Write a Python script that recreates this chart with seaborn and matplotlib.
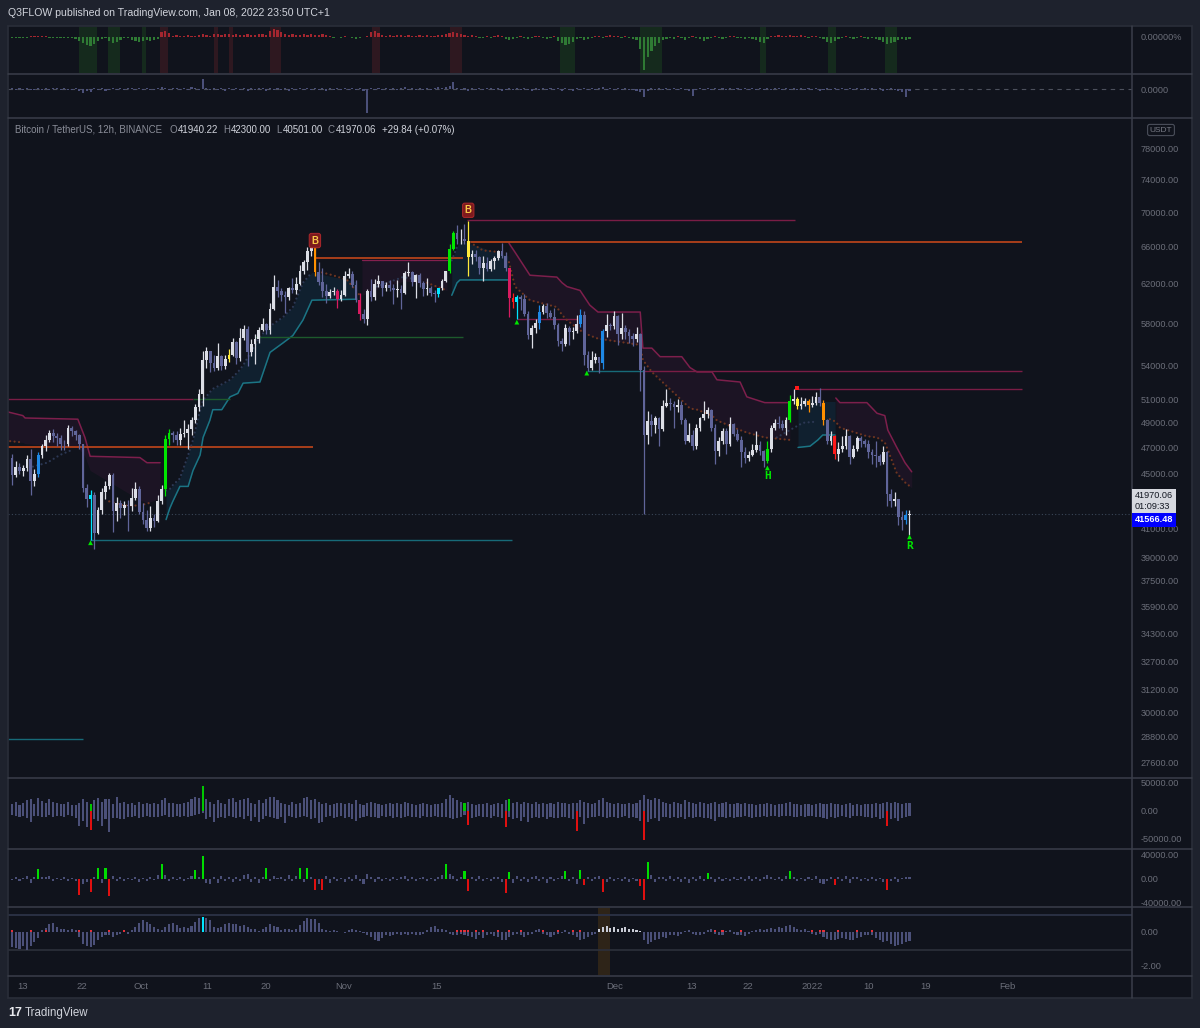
import numpy as np
import matplotlib
matplotlib.use("Agg")
import matplotlib.pyplot as plt
import seaborn as sns
from matplotlib.lines import Line2D
from matplotlib.patches import Rectangle
from matplotlib.ticker import NullLocator

sns.set_theme(style="dark")
plt.rcParams["font.family"] = ["Liberation Sans", "DejaVu Sans"]
plt.rcParams["axes.unicode_minus"] = False

# ---------------- BTCUSDT 12h candles (thousand USDT), Sep 10 -> Jan 08 ----------------
first_open = 46.2
close = [
    44.85, 45.5, 45.16, 45.4, 46.06, 44.4, 44.96, 46.4, 47.11, 47.6,
    48.14, 47.9, 47.76, 47.3, 47.26, 48.6, 48.31, 48.0, 47.26, 43.9,
    43.1, 43.35, 40.69, 42.3, 43.56, 44.0, 44.87, 42.2, 42.81, 42.4,
    42.67, 42.6, 43.16, 43.8, 42.17, 41.6, 41.03, 41.7, 41.52, 42.9,
    43.79, 47.7, 48.14, 48.0, 47.63, 48.1, 48.2, 48.5, 49.22, 50.3,
    51.47, 54.5, 55.32, 54.2, 53.79, 54.9, 53.95, 54.6, 54.96, 56.2,
    54.66, 56.6, 57.47, 55.2, 56.01, 56.5, 57.37, 57.9, 57.35, 59.4,
    61.67, 61.2, 60.88, 60.6, 61.53, 61.3, 62.01, 63.4, 64.28, 65.5,
    66.0, 63.2, 62.19, 61.2, 60.69, 61.1, 61.29, 60.4, 60.86, 62.8,
    63.08, 61.9, 60.33, 58.9, 58.41, 61.2, 60.58, 62.0, 62.25, 61.6,
    61.86, 61.6, 61.3, 61.45, 61.0, 63.1, 63.23, 62.2, 62.94, 62.1,
    61.45, 61.6, 61.0, 60.9, 61.53, 62.3, 63.3, 65.8, 67.55, 66.9,
    66.93, 66.6, 64.91, 65.2, 64.86, 63.7, 64.16, 63.6, 64.4, 64.8,
    65.52, 65.0, 63.63, 60.5, 60.1, 60.6, 60.37, 58.9, 56.89, 57.5,
    58.05, 59.1, 59.71, 59.0, 58.62, 57.8, 56.25, 56.0, 57.54, 57.1,
    57.19, 57.9, 58.8, 55.0, 53.73, 54.5, 54.74, 54.2, 57.27, 57.8,
    57.76, 58.7, 56.95, 57.5, 57.18, 56.8, 56.48, 56.9, 53.6, 48.0,
    49.15, 48.8, 49.4, 48.5, 50.44, 50.7, 50.59, 50.3, 50.47, 49.2,
    47.55, 48.0, 47.14, 48.6, 49.39, 49.7, 50.1, 48.6, 46.71, 47.5,
    48.35, 47.3, 48.86, 48.1, 47.63, 46.6, 46.13, 46.4, 46.83, 47.2,
    46.68, 45.9, 46.91, 48.6, 48.97, 48.9, 48.61, 49.2, 50.82, 51.0,
    50.43, 50.6, 50.81, 50.5, 50.68, 51.2, 50.7, 49.2, 47.54, 47.9,
    46.46, 46.9, 47.12, 47.9, 46.22, 46.9, 47.72, 47.5, 47.29, 46.6,
    46.43, 46.3, 45.83, 46.6, 43.43, 42.9, 43.08, 41.8, 41.55, 41.94, 41.97,
]
high = [
    46.5, 45.9, 45.8, 45.6, 46.4, 46.9, 45.3, 46.6, 47.3, 48.0,
    48.4, 48.5, 48.2, 48.0, 47.6, 48.8, 48.7, 48.4, 48.1, 47.3,
    44.2, 43.7, 43.6, 42.5, 43.9, 44.4, 44.98, 45.0, 43.2, 42.97,
    42.9, 43.0, 43.9, 44.3, 44.0, 42.8, 42.3, 42.6, 42.0, 43.4,
    44.1, 48.0, 48.5, 48.3, 48.3, 48.6, 49.2, 48.9, 49.5, 50.6,
    51.9, 55.3, 55.75, 55.3, 55.0, 56.1, 55.0, 55.0, 55.5, 56.6,
    56.3, 57.5, 57.8, 57.7, 56.5, 56.9, 57.6, 58.5, 58.0, 60.0,
    62.9, 62.4, 61.6, 61.2, 61.7, 62.6, 62.7, 64.0, 64.5, 66.0,
    67.0, 66.0, 64.3, 63.7, 62.0, 61.5, 61.7, 61.5, 61.3, 63.3,
    63.7, 63.3, 62.4, 61.0, 59.4, 61.5, 62.5, 62.5, 62.95, 62.3,
    62.2, 62.4, 62.0, 62.4, 61.9, 63.3, 64.3, 63.4, 63.0, 63.1,
    62.3, 62.6, 61.8, 61.3, 61.6, 62.5, 63.4, 66.3, 67.8, 68.5,
    68.0, 68.6, 69.0, 65.6, 65.6, 65.0, 65.0, 64.9, 64.6, 65.0,
    65.6, 66.4, 65.4, 63.7, 61.0, 60.8, 60.8, 60.9, 59.2, 57.8,
    58.4, 59.8, 59.9, 60.0, 59.3, 59.5, 58.0, 56.6, 57.9, 57.7,
    57.6, 58.8, 59.4, 59.2, 55.3, 55.3, 55.1, 54.7, 57.4, 58.9,
    58.0, 59.2, 58.8, 59.0, 57.8, 57.4, 57.0, 57.6, 57.0, 53.9,
    50.0, 49.7, 49.6, 49.5, 50.9, 51.9, 51.1, 50.8, 51.0, 50.8,
    49.4, 49.0, 48.4, 48.9, 49.5, 50.8, 50.3, 50.2, 48.9, 47.8,
    48.6, 48.6, 49.5, 49.0, 48.5, 47.9, 47.0, 46.7, 47.3, 48.3,
    47.5, 46.8, 47.5, 48.8, 49.3, 49.6, 49.2, 49.5, 51.4, 51.9,
    51.2, 51.2, 51.1, 51.0, 51.3, 51.6, 52.0, 50.9, 49.3, 48.3,
    48.0, 47.4, 47.9, 48.5, 48.0, 47.2, 47.9, 47.9, 47.7, 47.6,
    46.9, 47.5, 46.5, 47.1, 46.7, 43.8, 43.6, 43.1, 42.2, 42.3, 42.3,
]
low = [
    44.1, 44.7, 44.9, 44.8, 45.2, 43.4, 44.0, 44.7, 46.2, 46.7,
    47.4, 47.4, 47.1, 46.8, 46.8, 47.1, 47.9, 47.6, 46.9, 43.6,
    42.5, 40.2, 39.6, 40.6, 42.0, 43.1, 43.8, 40.7, 41.5, 41.7,
    41.9, 40.8, 42.2, 43.0, 42.0, 41.3, 40.8, 40.8, 41.1, 41.4,
    42.7, 43.3, 47.2, 47.4, 47.2, 47.2, 47.8, 46.9, 48.0, 49.0,
    50.0, 50.4, 53.8, 53.4, 53.5, 53.6, 53.6, 53.7, 54.3, 54.9,
    54.1, 54.4, 56.4, 53.9, 54.9, 54.1, 56.1, 57.2, 56.9, 56.9,
    59.3, 60.6, 60.2, 59.0, 60.3, 61.0, 60.9, 61.9, 63.0, 63.5,
    65.0, 62.8, 61.9, 60.6, 60.0, 60.5, 60.8, 59.5, 60.2, 60.7,
    62.6, 61.7, 60.1, 58.3, 58.0, 57.8, 60.2, 60.3, 61.7, 60.7,
    61.2, 61.2, 59.9, 60.6, 59.4, 60.9, 62.8, 61.8, 60.5, 61.7,
    60.7, 60.8, 60.7, 60.1, 60.6, 61.3, 62.2, 63.1, 65.6, 66.3,
    66.3, 66.3, 62.8, 64.1, 64.4, 63.0, 62.3, 63.4, 63.3, 63.6,
    64.5, 64.8, 63.4, 58.6, 59.5, 58.4, 59.3, 58.7, 56.5, 55.6,
    57.0, 57.4, 58.9, 58.5, 58.5, 57.4, 55.8, 55.3, 55.8, 55.9,
    56.5, 57.0, 57.6, 54.0, 53.5, 53.6, 54.2, 53.3, 53.7, 56.7,
    57.3, 57.4, 55.9, 56.5, 56.5, 56.1, 55.8, 56.2, 51.7, 42.0,
    47.3, 47.9, 48.2, 47.1, 48.3, 50.3, 50.1, 48.6, 49.9, 48.9,
    47.3, 47.4, 46.8, 46.9, 48.3, 49.2, 49.4, 48.3, 45.7, 46.3,
    47.3, 46.5, 47.1, 47.9, 47.5, 45.5, 45.8, 45.9, 46.3, 46.6,
    46.4, 45.5, 45.8, 46.6, 48.4, 48.6, 48.4, 48.0, 49.1, 50.6,
    50.2, 50.2, 50.4, 49.9, 50.3, 50.5, 50.4, 48.8, 47.3, 47.2,
    46.1, 45.9, 46.6, 46.9, 45.7, 46.2, 46.7, 47.0, 47.0, 46.2,
    45.7, 45.5, 45.6, 45.7, 42.6, 42.5, 42.6, 41.2, 40.9, 41.3, 40.5,
]

# candles painted by the indicator
blue_idx = [7, 141, 152, 158, 239]
cyan_idx = [21, 114, 135]
green_idx = [41, 42, 117, 118, 202, 208]
yellow_idx = [58, 122, 210]
orange_idx = [81, 213, 217]
magenta_idx = [87, 93, 133]
red_idx = [134, 220]

# ---------------- overlay indicator values (bar index, thousand USDT) ----------------
# bearish clouds: upper band and mid (dotted) line
d1_i = [-1.0, 2.9, 3.5, 17.6, 19.5, 20.9, 34.2, 36.1, 39.6]
d1_up = [49.9, 49.6, 49.4, 49.3, 47.8, 46.3, 46.2, 45.8, 45.8]
d1_mid = [47.5, 47.4, 47.3, 47.0, 46.3, 45.2, 43.0, 42.8, 43.1]
d2_i = [93.6, 98.0, 105.0, 110.0, 116.3]
d2_up = [64.5, 64.5, 64.5, 64.5, 64.5]
d2_mid = [60.8, 61.5, 62.3, 62.0, 61.3]
d3_i = [132.9, 134.5, 138.5, 145.7, 147.1, 148.4, 151.9, 154.5, 156.7, 168.0, 168.7,
        171.1, 173.3, 179.1, 181.3, 183.2, 187.2, 188.5, 194.7, 196.5, 201.3, 208.0]
d3_up = [66.4, 65.4, 62.9, 62.7, 62.1, 61.7, 61.3, 59.8, 59.1, 59.1, 55.6,
         55.6, 54.8, 54.8, 53.8, 53.4, 53.4, 52.7, 52.5, 51.2, 50.7, 50.7]
d3_mid = [64.3, 61.7, 60.3, 59.6, 58.8, 58.3, 57.3, 56.8, 56.5, 55.9, 54.5,
          53.4, 52.7, 50.9, 50.2, 50.1, 49.6, 49.2, 48.4, 48.2, 47.8, 47.6]
d4_i = [220.3, 221.4, 228.6, 231.3, 233.4, 234.2, 236.6, 238.8, 240.6]
d4_up = [51.1, 50.7, 50.7, 49.8, 49.6, 48.4, 47.0, 45.8, 45.1]
d4_mid = [49.1, 48.6, 47.9, 47.8, 47.4, 46.8, 45.0, 44.3, 43.9]

# bullish clouds: lower band and mid (dotted) line
t1_i = [41.2, 42.2, 43.0, 44.9, 47.1, 48.4, 50.3, 51.1, 52.9, 53.7, 56.1,
        58.3, 60.4, 61.8, 66.3, 69.0, 72.5, 75.1, 77.8, 80.2, 92.2]
t1_lo = [41.6, 42.4, 42.9, 44.0, 44.0, 45.2, 46.4, 47.8, 49.2, 50.1, 50.1,
         51.2, 51.5, 52.4, 52.5, 55.2, 56.1, 56.8, 58.3, 60.3, 60.4]
t1_mid = [43.7, 43.8, 44.1, 44.6, 46.4, 47.6, 50.1, 50.9, 51.6, 51.9, 52.3,
          52.7, 53.4, 54.0, 56.7, 57.7, 58.6, 59.6, 62.1, 63.2, 62.2]
t2_i = [117.6, 119.0, 119.8, 132.6]
t2_lo = [60.8, 62.1, 62.4, 62.4]
t2_mid = [64.5, 66.0, 66.7, 65.0]
t3_i = [210.2, 213.4, 215.5, 216.8, 220.1]
t3_lo = [47.0, 47.1, 47.6, 48.0, 48.0]
t3_mid = [50.9, 51.0, 50.9, 50.8, 50.8]

# extra dotted segments
g1_i, g1_p = [5.6, 9.4, 12.8, 16.0], [45.5, 45.8, 46.4, 46.8]
g3_i, g3_p = [97.6, 104.5, 109.1], [61.7, 62.7, 62.4]
g6_i, g6_p = [204.5, 208.0, 211.5, 215.2], [47.8, 48.4, 49.0, 49.1]
o0_i, o0_p = [-0.5, 2.9], [47.5, 47.4]
o1_i, o1_p = [26, 30, 34, 37], [42.9, 42.6, 42.6, 42.8]
o2_i, o2_p = [82.9, 85.8, 89.6, 93.0], [63.2, 62.9, 62.4, 60.8]
o3_i, o3_p = [111.0, 113.6, 116.3], [62.1, 61.7, 61.3]
o4_i, o4_p = [122.5, 125.9, 130.5], [66.5, 65.6, 65.4]

# horizontal levels
lvl_start = [121.7, 121.7, 81.3, 65.0, -1.1, 48.4, -1.1, 20.9, -1.1, 168.7, 210.2, 135.0, 153.7]
lvl_end = [209.4, 270.1, 120.6, 120.6, 48.4, 58.3, 80.5, 133.7, 19.0, 270.1, 270.1, 151.1, 168.7]
lvl_price = [69.1, 66.5, 64.8, 56.7, 51.0, 51.0, 47.0, 40.2, 28.7, 53.5, 51.9, 58.4, 53.5]
lvl_kind = ["maroon", "orange", "orange", "green", "maroon", "green", "orange", "teal",
            "teal", "maroon", "maroon", "maroon", "teal"]

# signal markers
tri_i = [21, 135, 153.7, 202, 240]
tri_p = [40.0, 58.1, 53.3, 45.4, 40.4]

# ---------------- lower / upper sub-panel series ----------------
p1 = [
    -0.5, -1, -0.5, -1, -0.5, 1, 1.5, 1, 1.5, 1, -0.5, -1, -0.5, -1, -1, -0.5, -1, -2, -4, -6,
    -8, -9, -7, -4, -2, -1, -4, -6, -5, -3, -1, -1, -3, -4, -5, -4, -3, -4, -3, -2,
    5, 6, 4, 1, 2, 1, 1, 2, 1, 1, 2, 3, 2, 1, 3, 3, 2, 3, 3, 2,
    3, 2, 2, 3, 2, 2, 3, 3, 2, 6, 8, 7, 5, 3, 2, 3, 2, 2, 3, 2,
    3, 2, 2, 3, 2, 1, -1, 0.5, -1, 1, 0.5, -1, -1.5, -1, 0.5, 1, 5, 6, 4, 2,
    1, 2, 1, 2, 2, 1, 2, 1, 1, 2, 1, 2, 1, 1, 2, 2, 3, 4, 5, 4,
    3, 2, 1, 2, 1, -1, -1, 1, -1, 1, 2, 1, -2, -3, -2, -1, 1, -1, -2, -1,
    1, 1, -1, -2, -1, 1, -4, -6, -8, -7, -5, -2, -1, -3, -2, -1, 1, 1, -1, 1,
    2, 1, 1, -1, 1, -1, -2, -3, -12, -33, -20, -14, -9, -6, -3, -2, -1, -2, 1, -1,
    -3, -1, 1, -1, -2, -4, -2, -1, 1, -1, -2, -1, 1, 1, -1, -1, -2, -1, -2, -3,
    -5, -6, -2, 1, 1, 2, 1, 1, 2, 1, 1, 2, 1, -1, 1, 1, -1, -2, -5, -6,
    -4, -2, -1, 1, -1, -2, -1, 1, -1, -2, -1, -2, -3, -5, -7, -6, -5, -3, -2, -3, -2,
]
p1_green_start = [17.9, 25.7, 34.8, 146.5, 167.9, 200.0, 218.2, 233.4]
p1_green_end = [22.7, 28.9, 35.8, 150.5, 173.8, 201.6, 220.3, 236.6]
p1_red_start = [39.6, 54.0, 58.0, 69.0, 96.3, 117.1]
p1_red_end = [41.7, 55.1, 59.1, 71.9, 98.4, 120.3]

p2 = [
    1, -1, 1, -1, 1, -1, -1, 1, -1, 1, -1, 1, 1, -1, 1, -1, -1, 1, -2, -4,
    -2, -3, 1, -1, 1, -2, -1, 1, -1, 1, -1, 1, 1, -1, 1, -1, 1, -1, -1, 1,
    2, 1, -1, 1, 1, -1, 1, -1, 2, 1, -1, 10, 1, -1, 1, -1, 1, -2, 1, -1,
    1, -1, 1, -2, 1, -1, 1, 1, -2, 1, -1, 1, -1, 1, -2, 1, -1, 1, -1, 1,
    -1, 1, -1, 1, -2, 1, -1, 1, -1, 1, -1, 1, -1, 1, -2, -24, 1, -1, 1, -1,
    1, -1, 1, -1, 1, 2, -1, 1, -1, 1, -1, 1, -1, 1, 2, 1, 2, 3, 7, 1,
    -1, 1, -2, 1, -1, 1, -1, 1, 1, -1, 1, -2, -1, 1, -1, 1, -1, 1, -1, -2,
    1, -1, 1, -1, 1, -1, 1, -2, 1, -1, -2, 1, -1, 1, -1, 1, -1, 1, 2, -1,
    1, -1, 1, -1, 1, -1, -1, -2, -3, -8, -2, 1, -1, 1, -1, 1, -1, 1, -1, 1,
    -1, -2, -7, -1, 1, -1, 1, -1, 1, -1, 1, -1, 1, -1, 1, -1, 1, -1, 1, -1,
    1, -1, 1, -1, 1, 1, -1, 1, -1, 1, -1, 1, -1, 1, -1, 1, -2, -1, 1, -1,
    1, -1, 1, -1, 1, -1, 1, -1, 1, -1, 1, -1, 1, -2, -1, 1, -1, -2, -3, -8, -2,
]

vol_up = [
    12, 15, 10, 13, 18, 20, 12, 22, 17, 14, 20, 16, 14, 11, 12, 15, 10, 9, 14, 20,
    15, 12, 18, 22, 15, 20, 20, 12, 25, 14, 16, 12, 14, 10, 16, 12, 14, 11, 13, 12,
    18, 22, 14, 13, 12, 11, 14, 16, 20, 25, 22, 43, 20, 15, 12, 18, 14, 12, 20, 22,
    15, 18, 20, 22, 13, 12, 18, 14, 20, 24, 25, 18, 14, 12, 10, 16, 12, 14, 22, 24,
    18, 20, 15, 12, 14, 10, 12, 14, 13, 11, 14, 12, 18, 12, 10, 13, 16, 14, 12, 10,
    12, 14, 11, 13, 12, 16, 14, 11, 10, 12, 13, 11, 10, 12, 11, 13, 20, 28, 22, 18,
    15, 14, 16, 12, 10, 12, 11, 13, 10, 12, 14, 12, 18, 20, 14, 16, 12, 15, 14, 12,
    16, 12, 14, 11, 13, 12, 15, 14, 13, 12, 14, 13, 18, 15, 14, 12, 13, 18, 22, 16,
    14, 12, 13, 11, 12, 14, 12, 13, 18, 28, 20, 18, 22, 20, 16, 14, 12, 15, 13, 12,
    18, 16, 14, 12, 15, 13, 12, 14, 16, 12, 13, 15, 12, 11, 13, 12, 14, 12, 11, 10,
    12, 11, 14, 12, 10, 11, 12, 13, 16, 12, 11, 10, 12, 11, 10, 12, 14, 12, 11, 13,
    12, 11, 10, 12, 13, 9, 11, 10, 12, 11, 12, 13, 12, 14, 16, 14, 15, 13, 12, 14, 13,
]
vol_dn = [
    8, 10, 12, 9, 14, 20, 9, 10, 12, 11, 8, 12, 10, 9, 11, 8, 10, 13, 28, 18,
    30, 34, 16, 18, 28, 15, 38, 14, 14, 16, 15, 11, 12, 10, 14, 12, 10, 12, 11, 12,
    10, 8, 12, 11, 10, 12, 9, 11, 10, 8, 7, 5, 15, 12, 20, 14, 12, 14, 10, 12,
    14, 12, 16, 10, 18, 12, 20, 15, 10, 11, 14, 16, 12, 22, 10, 12, 14, 12, 10, 11,
    16, 14, 22, 20, 12, 10, 14, 12, 10, 14, 12, 16, 18, 14, 12, 10, 11, 12, 14, 10,
    12, 10, 13, 11, 14, 12, 10, 12, 11, 13, 10, 12, 11, 10, 12, 11, 12, 14, 16, 14,
    12, 8, 26, 14, 12, 10, 12, 11, 13, 10, 12, 14, 30, 12, 16, 14, 18, 12, 20, 14,
    12, 14, 11, 15, 12, 14, 13, 12, 11, 14, 16, 37, 12, 24, 14, 12, 11, 10, 12, 14,
    12, 11, 13, 12, 10, 14, 12, 13, 18, 52, 20, 16, 14, 18, 12, 11, 13, 12, 14, 12,
    16, 12, 14, 11, 12, 13, 14, 16, 18, 12, 11, 14, 12, 13, 12, 11, 10, 12, 13, 11,
    12, 10, 11, 9, 10, 11, 10, 9, 10, 11, 12, 10, 11, 9, 10, 12, 11, 14, 16, 12,
    14, 12, 10, 12, 14, 10, 9, 10, 11, 12, 14, 12, 16, 14, 27, 16, 14, 18, 14, 12, 10,
]
vol_up_green = [21, 51, 121, 133]
vol_dn_red = [21, 122, 132, 151, 169, 234]

delta = [
    -2, 3, -4, 2, 5, -6, 3, 17, 4, 3, 5, -3, 2, -2, 3, -4, 2, -3, -27, -8,
    -5, -22, 4, 18, -6, 18, -28, 5, -4, 3, -3, 2, -2, 3, -5, 2, -3, 4, -2, 6,
    25, 6, -4, 3, -2, 4, -3, 2, 5, 15, 4, 38, -6, -8, 4, -7, 5, -4, 3, -5,
    3, -4, 6, 8, -5, 3, -6, 4, 19, -3, 5, 2, 4, -3, 6, -4, 5, 18, -5, 19,
    3, -18, -8, -18, 5, -6, 3, -4, 2, -5, 4, -3, 6, -4, -9, 8, 3, -5, 4, -3,
    2, -3, 4, -2, 3, 5, -4, 3, -3, 2, 4, -3, 2, -4, 3, 6, 25, 8, 5, -3,
    4, 14, -20, 3, -4, 5, -3, 2, -4, 3, 4, -5, -23, 12, -6, 5, -4, 3, -5, 4,
    5, -3, 4, -6, 3, -4, 2, 5, 14, -3, 4, -8, 15, -10, 4, -3, 3, 5, -21, -5,
    3, -4, 2, -3, 4, -5, 2, -4, -12, -35, 28, 6, -5, 4, 3, -4, 5, -3, 4, -5,
    3, -6, 4, -3, 5, -4, 10, 3, -5, 4, -3, 2, -4, 3, -2, 4, -3, 5, -4, 3,
    -3, 4, 6, 3, -2, 4, -3, 5, 14, 4, -3, 2, -4, 3, -2, 5, -6, -8, -4, 3,
    -10, 3, -4, 5, -6, 3, 4, -3, 2, -4, 3, -3, 2, -5, -18, -4, 3, -5, 2, 4, 3,
]

osc = [
    -0.9, -0.95, -1.0, -0.85, -1.05, -0.8, -0.6, -0.35, 0.1, 0.25, 0.45, 0.5, 0.3, 0.15, 0.2, 0.1, 0.15, 0.12, -0.3, -0.7,
    -0.85, -0.9, -0.75, -0.5, -0.3, -0.2, -0.15, -0.3, -0.2, -0.1, 0.05, -0.1, 0.1, 0.3, 0.55, 0.7, 0.6, 0.45, 0.3, 0.15,
    0.1, 0.3, 0.45, 0.55, 0.4, 0.25, 0.3, 0.25, 0.35, 0.6, 0.85, 0.9, 0.85, 0.7, 0.3, 0.25, 0.3, 0.45, 0.55, 0.45,
    0.45, 0.35, 0.4, 0.3, 0.2, 0.15, 0.05, 0.15, 0.3, 0.45, 0.35, 0.3, 0.1, 0.15, 0.2, 0.1, 0.2, 0.4, 0.65, 0.8,
    0.75, 0.75, 0.5, 0.2, 0.1, 0.05, 0.1, 0.05, 0.0, -0.05, 0.1, 0.15, 0.1, 0.05, -0.05, -0.15, -0.3, -0.5, -0.55, -0.35,
    -0.2, -0.25, -0.15, -0.1, -0.15, -0.1, -0.15, -0.1, -0.2, -0.15, -0.1, 0.1, 0.3, 0.35, 0.2, 0.15, 0.1, -0.1, -0.15, -0.2,
    -0.1, -0.15, -0.25, -0.3, -0.4, -0.2, -0.35, -0.15, -0.1, -0.25, -0.3, -0.45, -0.5, -0.3, -0.2, -0.1, -0.15, -0.3, -0.2, -0.1,
    0.1, 0.15, -0.1, -0.2, -0.3, -0.15, -0.1, -0.05, 0.1, -0.1, -0.2, -0.3, -0.45, -0.4, -0.3, -0.2, -0.1, 0.2, 0.3, 0.35,
    0.25, 0.3, 0.2, 0.25, 0.3, 0.2, 0.15, 0.1, 0.05, -0.5, -0.7, -0.6, -0.5, -0.4, -0.3, -0.35, -0.2, -0.15, -0.25, -0.1,
    0.05, 0.1, -0.1, -0.2, -0.15, -0.1, 0.1, 0.15, -0.1, -0.2, -0.15, 0.05, 0.1, -0.1, -0.15, -0.2, -0.25, -0.1, 0.05, 0.1,
    0.15, 0.1, 0.2, 0.25, 0.2, 0.3, 0.25, 0.35, 0.4, 0.3, 0.2, 0.1, 0.15, 0.05, -0.1, -0.2, -0.1, -0.3, -0.4, -0.45,
    -0.5, -0.4, -0.35, -0.4, -0.5, -0.45, -0.35, -0.3, -0.2, -0.15, -0.2, -0.35, -0.5, -0.6, -0.55, -0.7, -0.8, -0.75, -0.7, -0.6, -0.55,
]
osc_red_tip = [0, 5, 9, 18, 21, 26, 30, 119, 120, 121, 122, 124, 126, 130, 133, 136, 142,
               146, 150, 152, 188, 190, 195, 214, 216, 217, 221, 226, 230]
osc_white = list(range(157, 169))
osc_cyan = [51]

# axis labels
xtick_pos = [2.9, 18.7, 34.5, 52.1, 67.9, 88.8, 113.4, 161.2, 181.6, 196.8, 213.9, 229.1, 244.4, 266.3]
xtick_lab = ["13", "22", "Oct", "11", "20", "Nov", "15", "Dec", "13", "22", "2022", "10", "19", "Feb"]
price_ticks = [78000, 74000, 70000, 66000, 62000, 58000, 54000, 51000, 49000, 47000, 45000,
               41000, 39000, 37500, 35900, 34300, 32700, 31200, 30000, 28800, 27600]

# ---------------- style ----------------
FRAME = "#1e222d"
PANEL = "#10131c"
SEP = "#3a3e4a"
TICK = "#6b6e79"
BULL = "#dcdee6"
BEAR = "#60659a"
SLATE = "#4b5079"
COL = {"maroon": "#7a1d45", "orange": "#c2461a", "green": "#1d5a2c", "teal": "#176a78"}
XLO, XHI = -1.07, 299.5
W_PX, H_PX = 1200, 1028


def fx(px):
    return px / W_PX


def fy(py):
    return 1 - py / H_PX


fig = plt.figure(figsize=(12, 10.28), dpi=100, facecolor=FRAME)
fig.add_artist(Rectangle((fx(8), fy(998)), fx(1192) - fx(8), (998 - 26) / H_PX,
                         transform=fig.transFigure, fc=PANEL, ec="none", zorder=-5))


def panel(top, bot):
    ax = fig.add_axes([fx(8), fy(bot), (1132 - 8) / W_PX, (bot - top) / H_PX])
    ax.set_facecolor(PANEL)
    for s in ax.spines.values():
        s.set_visible(False)
    ax.set_xlim(XLO, XHI)
    ax.set_xticks([])
    ax.yaxis.tick_right()
    ax.tick_params(axis="y", length=0, colors=TICK, labelsize=6.6, pad=6)
    ax.grid(False)
    return ax


# ---------------- main price panel ----------------
ax = panel(119, 777)
ax.set_yscale("log")
c = np.array(close) * 1000
o = np.r_[first_open, close[:-1]] * 1000
h = np.array(high) * 1000
lo = np.array(low) * 1000
idx = np.arange(len(c))

cols = [BULL if c[k] >= o[k] else BEAR for k in idx]
for lst, colr in [(blue_idx, "#1e88e5"), (cyan_idx, "#00e5ff"), (green_idx, "#00e600"),
                  (yellow_idx, "#ffeb3b"), (orange_idx, "#ff8f00"), (magenta_idx, "#d81b60"),
                  (red_idx, "#ff1a1a")]:
    for k in lst:
        cols[k] = colr

# clouds
for xi, a, b in [(d1_i, d1_up, d1_mid), (d2_i, d2_up, d2_mid), (d3_i, d3_up, d3_mid), (d4_i, d4_up, d4_mid)]:
    ax.fill_between(xi, np.array(a) * 1000, np.array(b) * 1000, color="#3a1838", alpha=0.3, lw=0, zorder=1)
for xi, a, b in [(t1_i, t1_lo, t1_mid), (t2_i, t2_lo, t2_mid), (t3_i, t3_lo, t3_mid)]:
    ax.fill_between(xi, np.array(a) * 1000, np.array(b) * 1000, color="#123247", alpha=0.45, lw=0, zorder=1)

for xi, a in [(d1_i, d1_up), (d3_i, d3_up), (d4_i, d4_up)]:
    sns.lineplot(x=xi, y=np.array(a) * 1000, ax=ax, color="#7d1f4c", linewidth=1.1, sort=False, zorder=2)
sns.lineplot(x=d2_i, y=np.array(d2_up) * 1000, ax=ax, color="#86204f", linewidth=0.9, sort=False, zorder=2)
for xi, a in [(t1_i, t1_lo), (t2_i, t2_lo), (t3_i, t3_lo)]:
    sns.lineplot(x=xi, y=np.array(a) * 1000, ax=ax, color="#1b7585", linewidth=1.1, sort=False, zorder=2)

for s, e, p, kind in zip(lvl_start, lvl_end, lvl_price, lvl_kind):
    ax.hlines(p * 1000, s, e, color=COL[kind], lw=1.2 if kind == "orange" else 1.0, zorder=2)

dot = dict(ls=(0, (0.01, 2.0)), lw=1.6, dash_capstyle="round", zorder=2)
for xi, p in [(g1_i, g1_p), (t1_i[:20], t1_mid[:20]), (g3_i, g3_p), (t2_i[:2], t2_mid[:2]), (g6_i, g6_p)]:
    ax.plot(xi, np.array(p) * 1000, color="#2c3854", **dot)
for xi, p in [(o0_i, o0_p), (o1_i, o1_p), (o2_i, o2_p), (o3_i, o3_p), (o4_i, o4_p),
              (d3_i, d3_mid), ([218.7] + d4_i, [49.3] + d4_mid)]:
    ax.plot(xi, np.array(p) * 1000, color="#6e3520", **dot)

ax.axhline(c[-1], color="#3a4658", lw=0.8, ls=(0, (1, 2)), zorder=1)

# candles
ax.vlines(idx, lo, h, colors=cols, lw=0.9, zorder=3)
body = c - o
body = np.where(np.abs(body) < 30, 30, body)
ax.bar(idx, body, bottom=o, width=0.74, color=cols, lw=0, zorder=3)

# markers
for xi, p in [(81, 66700), (122, 70200)]:
    ax.text(xi, p, "B", ha="center", va="center", fontsize=7, fontweight="bold", color="#f7c948", zorder=6,
            bbox=dict(boxstyle="round,pad=0.22", fc="#7d1a1d", ec="#a3262a", lw=0.8))
sns.scatterplot(x=tri_i, y=np.array(tri_p) * 1000, ax=ax, marker="^", s=12, color="#00e600",
                edgecolor="none", zorder=6)
sns.scatterplot(x=[210], y=[52000], ax=ax, marker="s", s=7, color="#ff1a1a", edgecolor="none", zorder=6)
ax.text(202, 44800, "H", ha="center", va="center", fontsize=8, color="#00e600",
        family=["DejaVu Sans Mono"], fontweight="bold", zorder=6)
ax.text(240, 39800, "R", ha="center", va="center", fontsize=8, color="#00e600",
        family=["DejaVu Sans Mono"], fontweight="bold", zorder=6)

ax.set_ylim(26910, 81930)
ax.set_xlim(XLO, XHI)
ax.yaxis.set_minor_locator(NullLocator())
ax.set_yticks(price_ticks)
ax.set_yticklabels([f"{v:.2f}" for v in price_ticks])
ax.set_xticks([])
ax.set_xlabel("")
ax.set_ylabel("")

# ---------------- top panel 1 ----------------
a1 = panel(27, 73)
for s, e in zip(p1_green_start, p1_green_end):
    a1.axvspan(s, e, color="#152a1d", lw=0, zorder=0)
for s, e in zip(p1_red_start, p1_red_end):
    a1.axvspan(s, e, color="#2e1820", lw=0, zorder=0)
a1.bar(np.arange(len(p1)), p1, width=0.6, lw=0, zorder=2,
       color=["#a3262f" if v > 0 else "#2f7a34" for v in p1])
a1.set_ylim(-36, 10)
a1.set_yticks([0])
a1.set_yticklabels(["0.00000%"])

# ---------------- top panel 2 ----------------
a2 = panel(75, 117)
a2.axhline(0, color="#4c505c", lw=0.8, ls=(0, (4, 4)), zorder=1)
a2.bar(np.arange(len(p2)), p2, width=0.55, lw=0, color=SLATE, zorder=2)
a2.set_ylim(-28, 14)
a2.set_yticks([0])
a2.set_yticklabels(["0.0000"])

# ---------------- volume split panel ----------------
a4 = panel(779, 848)
up_c = ["#00c800" if k in vol_up_green else SLATE for k in range(len(vol_up))]
dn_c = ["#e01010" if k in vol_dn_red else SLATE for k in range(len(vol_dn))]
a4.bar(np.arange(len(vol_up)), np.array(vol_up) * 1000, width=0.55, lw=0, color=up_c)
a4.bar(np.arange(len(vol_dn)), -np.array(vol_dn) * 1000, width=0.55, lw=0, color=dn_c)
a4.set_ylim(-67000, 56300)
a4.set_yticks([50000, 0, -50000])
a4.set_yticklabels(["50000.00", "0.00", "-50000.00"])

# ---------------- delta panel ----------------
a5 = panel(850, 906)
d_c = ["#00dd00" if v >= 10 else ("#e01010" if v <= -10 else SLATE) for v in delta]
a5.bar(np.arange(len(delta)), np.array(delta) * 1000, width=0.55, lw=0, color=d_c)
a5.set_ylim(-45000, 48300)
a5.set_yticks([40000, 0, -40000])
a5.set_yticklabels(["40000.00", "0.00", "-40000.00"])

# ---------------- oscillator panel ----------------
a6 = panel(908, 975)
a6.axvspan(156.7, 159.9, color="#2e2418", lw=0, zorder=0)
a6.axhline(1.0, color="#2a3044", lw=1.4, zorder=1)
a6.axhline(-1.05, color="#2c303b", lw=1.2, zorder=1)
o_c = [SLATE] * len(osc)
for k in osc_white:
    o_c[k] = "#c9ccd6"
for k in osc_cyan:
    o_c[k] = "#00e5ff"
a6.bar(np.arange(len(osc)), osc, width=0.55, lw=0, color=o_c, zorder=2)
a6.bar(osc_red_tip, [0.13] * len(osc_red_tip), width=0.55, lw=0, color="#e5303a", zorder=3)
a6.set_ylim(-2.53, 1.41)
a6.set_yticks([0, -2])
a6.set_yticklabels(["0.00", "-2.00"])
a6.set_xticks(xtick_pos)
a6.set_xticklabels(xtick_lab)
a6.tick_params(axis="x", length=0, colors=TICK, labelsize=6.8, pad=5, labelbottom=True)

# ---------------- frame lines ----------------
for yy in [74, 118, 778, 849, 907, 976]:
    fig.add_artist(Line2D([fx(8), fx(1192)], [fy(yy), fy(yy)], color=SEP, lw=1.1, transform=fig.transFigure))
fig.add_artist(Line2D([fx(1132), fx(1132)], [fy(26), fy(998)], color=SEP, lw=1.1, transform=fig.transFigure))
fig.add_artist(Rectangle((fx(8), fy(998)), fx(1192) - fx(8), (998 - 26) / H_PX, transform=fig.transFigure,
                         fc="none", ec="#2a2e39", lw=1.2))

# ---------------- texts ----------------
fig.text(fx(8), fy(13), "Q3FLOW published on TradingView.com, Jan 08, 2022 23:50 UTC+1",
         color="#d1d4dc", fontsize=7.6, va="center", ha="left")

# legend row: pieces placed one after another using their rendered widths
GREY, LIGHT = "#8a8d98", "#d1d4dc"
renderer = fig.canvas.get_renderer()
xcur = 15
for txt, colr, gap in [("Bitcoin / TetherUS, 12h, BINANCE", GREY, 7), ("O", GREY, 1), ("41940.22", LIGHT, 5),
                       ("H", GREY, 1), ("42300.00", LIGHT, 5), ("L", GREY, 1), ("40501.00", LIGHT, 5),
                       ("C", GREY, 1), ("41970.06", LIGHT, 5), ("+29.84 (+0.07%)", LIGHT, 0)]:
    t = fig.text(fx(xcur), fy(130), txt, color=colr, fontsize=7, va="center", ha="left")
    bb = t.get_window_extent(renderer=renderer)
    xcur = xcur + bb.width + gap

fig.text(fx(1161), fy(130), "USDT", color="#787b86", fontsize=6, ha="center", va="center",
         bbox=dict(boxstyle="round,pad=0.25", fc="none", ec="#4a4e5a", lw=0.8))
fig.text(fx(1135), fy(501), "41970.06\n01:09:33", color="#131722", fontsize=6.6, ha="left", va="center",
         linespacing=1.15, bbox=dict(boxstyle="square,pad=0.3", fc="#d6d8df", ec="none"))
fig.text(fx(1135), fy(520), "41566.48", color="white", fontsize=6.6, fontweight="bold", ha="left", va="center",
         bbox=dict(boxstyle="square,pad=0.3", fc="#0000ff", ec="none"))

fig.text(fx(8), fy(1013), "17", color="#e8e9ee", fontsize=9, fontweight="heavy", ha="left", va="center")
fig.text(fx(25), fy(1013), "TradingView", color="#d1d4dc", fontsize=8.3, ha="left", va="center")

fig.savefig("out.png", dpi=100, facecolor=FRAME)
